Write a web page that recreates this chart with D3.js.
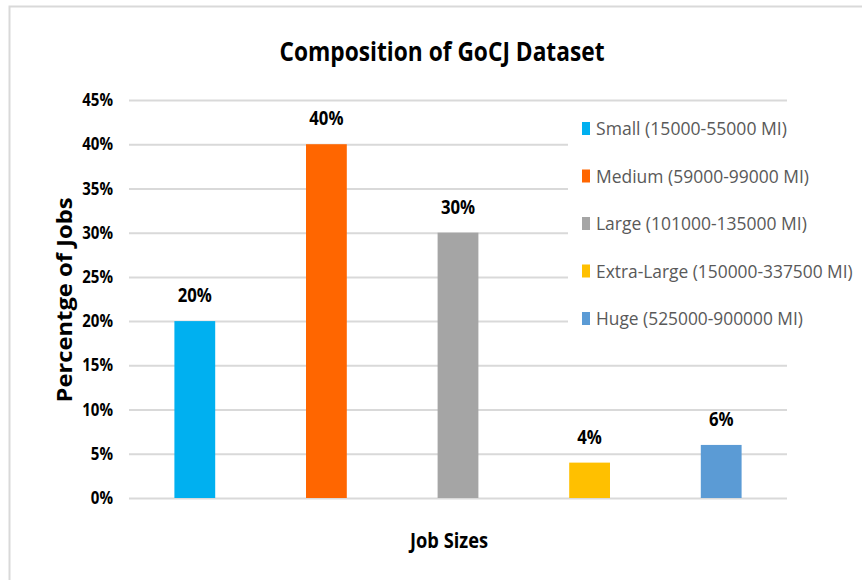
<!DOCTYPE html>
<html>
<head>
<meta charset="utf-8">
<script src="https://cdn.jsdelivr.net/npm/d3@7/dist/d3.min.js"></script>
<style>
  html, body { margin: 0; padding: 0; background: #fff; }
  svg { display: block; }
  text { font-family: "Open Sans", "Noto Sans", sans-serif; }
</style>
</head>
<body>
<script>
// Job size classes of the GoCJ dataset and their share of all jobs
const categories = ["Small", "Medium", "Large", "Extra-Large", "Huge"];
const legendLabels = [
  "Small (15000-55000 MI)",
  "Medium (59000-99000 MI)",
  "Large (101000-135000 MI)",
  "Extra-Large (150000-337500 MI)",
  "Huge (525000-900000 MI)"
];
const shares = [0.20, 0.40, 0.30, 0.04, 0.06];
const colors = ["#00B0F0", "#FF6600", "#A5A5A5", "#FFC000", "#5B9BD5"];
const yTicks = [0, 0.05, 0.10, 0.15, 0.20, 0.25, 0.30, 0.35, 0.40, 0.45];

const W = 862, H = 580;
const plot = { left: 129, right: 787, top: 100, bottom: 498 };

// narrow the text horizontally so it reads like a condensed face
function condense(sel, factor) {
  sel.each(function () {
    const len = this.getComputedTextLength();
    d3.select(this).attr("textLength", len * factor).attr("lengthAdjust", "spacingAndGlyphs");
  });
}
// squeeze a text run into a set width
function fitWidth(sel, widthFn) {
  sel.each(function (d, i) {
    d3.select(this).attr("textLength", typeof widthFn === "function" ? widthFn(d, i) : widthFn)
      .attr("lengthAdjust", "spacingAndGlyphs");
  });
}
// horizontally scale a left-anchored text so it spans a set width
function scaleToWidth(sel, widthFn) {
  sel.each(function (d, i) {
    const len = this.getComputedTextLength();
    const target = typeof widthFn === "function" ? widthFn(d, i) : widthFn;
    const el = d3.select(this);
    const x0 = +el.attr("x"), y0 = +el.attr("y");
    el.attr("x", 0).attr("y", 0)
      .attr("transform", `translate(${x0},${y0}) scale(${target / len},1)`);
  });
}

const svg = d3.select("body").append("svg")
  .attr("width", W).attr("height", H);

// chart frame (top and left edges visible)
svg.append("path")
  .attr("d", `M9.5,${H} V6.5 H${W}`)
  .attr("fill", "none")
  .attr("stroke", "#D9D9D9")
  .attr("stroke-width", 2);

const x = d3.scaleBand().domain(categories).range([plot.left, plot.right]).padding(0);
const y = d3.scaleLinear().domain([0, 0.45]).range([plot.bottom, plot.top]);
const barW = x.bandwidth() * 0.31;

// horizontal gridlines
const grid = svg.append("g")
  .attr("transform", `translate(${plot.left},0)`)
  .call(d3.axisLeft(y).tickValues(yTicks).tickSize(-(plot.right - plot.left)).tickFormat(""));
grid.select(".domain").remove();
grid.selectAll(".tick line").attr("stroke", "#D9D9D9").attr("stroke-width", 2);

// y tick labels
const yAxis = svg.append("g")
  .attr("transform", `translate(${plot.left},0)`)
  .call(d3.axisLeft(y).tickValues(yTicks).tickSize(0).tickPadding(16).tickFormat(d3.format(".0%")));
yAxis.select(".domain").remove();
yAxis.selectAll("text")
  .attr("font-family", "'Open Sans', sans-serif")
  .attr("font-size", 17.5)
  .attr("font-weight", "bold")
  .attr("fill", "#000")
  .call(condense, 0.86);

// bars
svg.append("g").selectAll("rect")
  .data(categories)
  .join("rect")
  .attr("x", (d) => x(d) + x.bandwidth() / 2 - barW / 2)
  .attr("y", (d, i) => y(shares[i]))
  .attr("width", barW)
  .attr("height", (d, i) => y(0) - y(shares[i]))
  .attr("fill", (d, i) => colors[i]);

// value labels above bars
svg.append("g").selectAll("text")
  .data(categories)
  .join("text")
  .attr("x", (d) => x(d) + x.bandwidth() / 2)
  .attr("y", (d, i) => y(shares[i]) - 19)
  .attr("text-anchor", "middle")
  .attr("font-size", 19)
  .attr("font-weight", "bold")
  .attr("fill", "#000")
  .text((d, i) => d3.format(".0%")(shares[i]))
  .call(condense, 0.88);

// legend (white box over the gridlines)
const legendWidths = [191, 213, 211, 257, 207];
const legend = svg.append("g");
legend.append("rect")
  .attr("x", 568).attr("y", 106).attr("width", W - 568).attr("height", 236)
  .attr("fill", "#fff");
const legendY = d3.scalePoint().domain(categories).range([128, 318]);
const item = legend.selectAll("g.item")
  .data(categories)
  .join("g")
  .attr("class", "item")
  .attr("transform", (d) => `translate(582,${legendY(d)})`);
item.append("rect")
  .attr("x", 0).attr("y", -6).attr("width", 8).attr("height", 13)
  .attr("fill", (d, i) => colors[i]);
item.append("text")
  .attr("x", 14).attr("y", 7)
  .attr("font-size", 19)
  .attr("font-weight", 500)
  .attr("fill", "#595959")
  .text((d, i) => legendLabels[i])
  .call(scaleToWidth, (d, i) => legendWidths[i]);

// title
svg.append("text")
  .attr("x", 442).attr("y", 61)
  .attr("text-anchor", "middle")
  .attr("font-size", 27)
  .attr("font-weight", "bold")
  .attr("fill", "#000")
  .text("Composition of GoCJ Dataset")
  .call(fitWidth, 325);

// axis titles
svg.append("text")
  .attr("x", 449).attr("y", 548)
  .attr("text-anchor", "middle")
  .attr("font-size", 21)
  .attr("font-weight", "bold")
  .attr("fill", "#000")
  .text("Job Sizes")
  .call(fitWidth, 78);

svg.append("text")
  .attr("transform", "translate(72,300) rotate(-90)")
  .attr("text-anchor", "middle")
  .attr("font-size", 22)
  .attr("font-weight", "bold")
  .attr("fill", "#000")
  .text("Percentge of Jobs")
  .call(fitWidth, 205);
</script>
</body>
</html>
